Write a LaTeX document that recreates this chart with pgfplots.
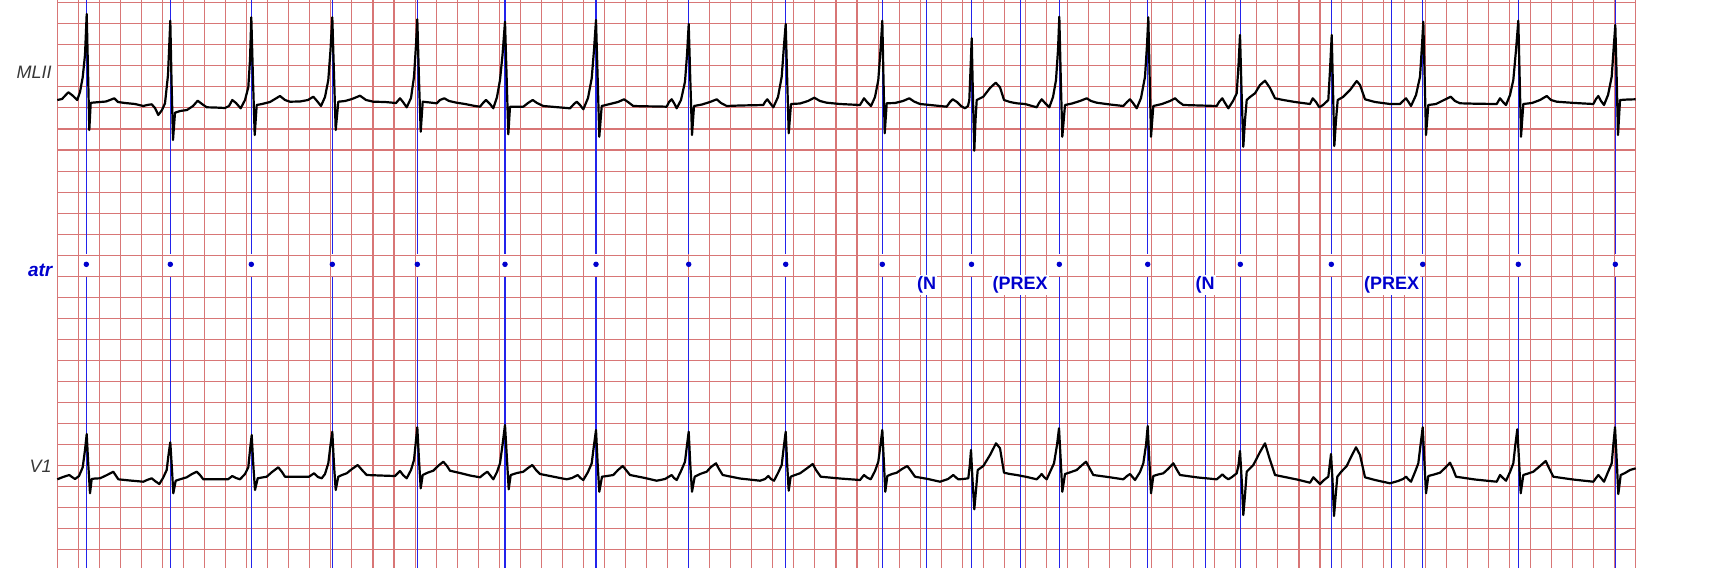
\documentclass[border=0pt]{standalone}
\usepackage{pgfplots}
\pgfplotsset{compat=1.18}
\usepackage{fontspec}
\setmainfont{Liberation Sans}
\definecolor{gridred}{RGB}{216,118,118}
\definecolor{annblue}{RGB}{35,35,235}
\definecolor{txtblue}{RGB}{0,0,205}
\definecolor{lblgray}{RGB}{55,55,55}

\pgfplotstableread{
x y
57.3 100
62 99
68.3 92.3
72 95
77.3 100
80 92
82.7 77.3
85 55
86.7 14
88 70
89.3 130
90.7 103
92 102.7
100 102
106 101.5
110 100
114.3 98.3
118 102
125 103
135 104
143.3 106
147 105
151.7 104.3
155 108
158.3 115
162 110
165 103.3
168 75
170.3 20.7
171.5 80
173 140
175 112.7
180 111
187 110
193 106
197.7 100.7
202 104
206.7 107.3
215 107.5
225 108
229 106
232.3 100
236 103
240.7 108.3
245 100
248.3 87.3
250 60
251.3 17.3
253 80
254.7 135
256.7 105
262 104
270 102
275 99
280 96
285 100
290 101.7
300 101.5
308 100
313.3 96.7
317 101
321 106
325 97
328.3 80
330.5 50
332.3 17.3
334 75
335.7 130
338.3 101.7
345 101
352 99
360 95.7
366 100
373.3 101.7
385 102
396 103
400 98.3
403 102
406.7 107.3
411 98
414 76.7
416 45
417.3 19.3
419 80
420.7 131.7
422.7 101.7
430 102.5
436.7 103.3
440 100
444.3 98.3
449 101
456.7 102.7
465 104
475 106
480 106.7
483 103
486 100
490 104
493.3 108.3
497 97
500 80
502.5 55
505 21.7
506.7 80
508.3 134.3
510 106.7
517 106.7
523.3 106.7
528 103
532.7 100
537 103
543.3 106
555 107
570 108.3
574 104
576.7 101.7
580 105
583.3 109.3
588 98
591.7 78.3
594 50
596 20
597.7 80
599.3 136.7
601.7 106
610 104
618 102
624 99.3
628 102
633.3 106
645 106.3
660 106.5
666.7 106.7
669 102
671.7 99.3
674 103
676.7 108.3
681 100
685 81.7
687 55
688.7 24
690.3 80
692 135
694 106
702 104.5
710 102
716.7 99.3
721 103
726.7 106
740 105.5
755 105.2
763.3 105
765 102
767.3 99.3
770 103
773.3 107.3
778 97
781.7 76.7
784 45
785.7 24
787.2 80
788.7 133.3
791 104
800 103.5
808 101
814.3 97.7
820 101
826.7 102.7
840 104
860 105
864 98.3
867 102
871 106
875 97
878.3 80
880.5 50
882.3 20.7
883.5 80
884.7 133.3
886.7 103.3
895 103
903 101
909.3 98.3
914 101.5
920 104
930 105
940 106
946.7 106.7
950 102
952.7 99.3
957 102
961 106
965 108.3
968 106
969.3 100
970.5 70
971.7 38.3
973 100
974.3 150.7
975.5 120
976.7 100
983.3 96.7
990 88
995.7 82.7
1000 87.3
1004 100
1010 102
1016.7 103.3
1025 104
1036.7 107.3
1039 103
1041.7 99.3
1045 103
1049.3 107.3
1053 97
1056 80
1058 50
1059.3 16.7
1060.8 80
1062.3 136.7
1065 105
1072 103.5
1080 101
1086.7 98.3
1091 101
1096.7 102.7
1110 104.5
1123.3 106
1127 102
1130 99.3
1133 103
1136.7 108.3
1141 98
1145 76.7
1147 45
1148.3 17.3
1149.7 80
1151 136.7
1153.3 106
1162 104
1170 101
1175 98.3
1179 102
1183.3 105
1200 105.5
1216.7 106
1219 102
1222.3 98.3
1225 103
1228.3 108.3
1233 101
1236.7 93.3
1238.5 65
1240 35
1241.5 90
1243.3 146.7
1245 120
1246.7 100
1250 97
1255 93.3
1260 85
1265 80.7
1270 88
1275 98.3
1283.3 100
1295 102
1310 104
1312.7 98.3
1316 102
1319.3 107.3
1323 105
1328.3 100
1330 70
1331.7 35
1333 90
1334.3 146
1336 120
1337.7 100
1343 97
1350 90
1356.7 81
1360 85
1365 99.3
1375 102
1390 104
1400 104
1403 101
1406 98.3
1408.5 102
1411 106
1416 95
1420 76.7
1422 45
1423.3 21.7
1424.7 80
1426 135
1428.3 105
1436 104
1444 100
1450.7 96.7
1455 101
1460 103.3
1475 103.7
1496.7 104
1500 98.3
1503 102
1506 105
1510 95
1513.3 80
1516 50
1518.3 20.7
1519.7 80
1521 136.7
1523.3 104
1532 103
1540 100
1546.7 96
1551 100
1556.7 101.7
1575 103
1593.3 104
1596 99
1598.3 96
1601 101
1604 105
1608 95
1611.7 76.7
1613.5 50
1615.3 25
1616.7 80
1618 135
1620 100
1628 99.5
1635.7 99.3
}\MLII

\pgfplotstableread{
x y
57.3 479.3
63 477
69.3 475
72 477
75 479
79 476
82.7 467.3
85 450
86.7 434
88.3 465
90 493.3
91.7 479
95 478.5
100 478.3
107 475
113.3 471.7
118.3 479.3
130 480.5
143.3 481.7
147 480
151.7 478.3
155 481
159.3 484
163 478
166.7 470
168.5 455
170.3 442.3
172 470
173.3 493.3
175.7 480.7
181 479
186.7 477.3
192 474
196.7 471.7
200 475
203.3 479.3
215 479.3
228 479.3
232.3 476
236 478
240 479.3
245 474
248.3 467.3
250 450
251.7 435
253.3 465
255 490
257.7 478.3
262 477.5
266.7 476.7
272 472
278.3 467.3
282 472
285 476.7
300 476.7
309 476.7
314 473.3
318 477
321.7 478.3
325 474
328.3 463.3
330.5 445
332.3 431.7
334 465
335.7 490
338.3 476.7
342 475
346.7 473.3
352 469
357.7 465
362 470
366.7 475
380 475.5
395 476
400 471
403 475
406.7 478.3
411 470
414 460
416 440
417.3 427.3
419 460
420.7 488.3
422.7 475
428 472.5
433.3 470.7
438 466
443.3 461.7
447 466
450 470.7
460 473
470 475.5
480 477.3
484 474
487.3 471.7
490 475
493.3 479.3
497 472
500 463.3
502.5 445
505 425
507 460
508.7 489.3
510.7 475
517 473
523.3 471.7
528 468
532.3 465
536 470
540 474
550 476
566.7 479.3
572 478
577.7 475
580.5 478
583.3 480
588 472
591.7 463.3
594 445
596 430
597.7 465
599.3 491.7
602 476.7
607 476
613.3 475
618 470
622.7 466
626 470
630 475
645 478
656.7 480.7
665 479
671.7 475
674 478
676.7 480
681 471
685 461.7
687 445
688.7 431.7
690.3 465
692 491.7
694.7 476.7
700 474
706.7 471.7
711 467
716 463.3
719 469
722.7 475
740 478.5
760 480.7
765 479
768.3 476
771 479
774 480.7
778 473
781.7 465
784 445
785.7 431.7
787.2 465
788.7 490.7
790.7 476.7
795 475
800 473.3
806 469
812.7 464
816 470
820.7 476.7
840 478.5
860 480
864 475
867 477.5
870.7 479.3
875 471
878.3 461.7
880.5 445
882.3 430
884 465
885.3 491.7
887.3 476
892 474
896.7 472.7
902 469
907.3 466
911 471
915 476.7
928 479
940 481.7
948 479
953.3 475
956 477.5
958.3 479.3
963 479
968.3 478.3
969.8 465
971 450
972.5 480
974.3 509.3
976 490
977.7 470
983.3 466
990 455
996 443.3
1000 448.3
1004 472.7
1010 474
1016.7 475
1027 477
1036.7 479.3
1039 477
1041.7 474
1044 477
1046.7 479.3
1050 472
1054 463.3
1057 445
1059 428.3
1060.7 460
1062.3 491.7
1065 474
1071 472
1076.7 470
1081 466
1086 461.7
1090 469
1093.3 475
1108 477
1123.3 479.3
1127 476
1130 474
1132.5 477
1135 480
1140 472
1143.3 463.3
1146 445
1147.7 426
1149.3 460
1151 493.3
1153.3 476
1158 474.5
1163.3 473.3
1168 469
1173.3 463.3
1177 470
1180 475
1198 477.5
1216.7 479.3
1219.5 477
1222.3 474.3
1225 477
1228.3 479.3
1232 477
1236.7 473.3
1238.5 465
1240 451
1241.7 480
1243.3 515
1245 495
1246.7 471.7
1253.3 465
1260 452
1265 443.3
1270 460
1275 475
1283.3 476.7
1297 479.5
1310 482.7
1313.3 477.3
1317 481
1320 484
1324 480
1328.3 476.7
1329.7 465
1331 454
1332.5 480
1334 516
1335.7 495
1337.3 476.7
1341 472
1346.7 466
1351 457
1356 447.3
1360 455
1365 477.3
1375 480
1390 483.3
1398 481
1403 479
1406 476.7
1408.5 479.5
1411 481.7
1415 472
1418.3 463.3
1420.5 445
1422.7 427.3
1424.3 460
1426 493.3
1428.3 476
1434 474.5
1440 472.7
1445 468
1450 462.7
1453 469
1456 476.7
1475 479.5
1496.7 481.7
1500 475
1503 478
1506 480.7
1510 472
1513.3 463.3
1515.3 445
1517.3 429.3
1519 460
1520.7 493.3
1523.3 475
1528 473.5
1533.3 471.7
1540 466
1545.7 461
1549 468
1553.3 476.7
1573 479.5
1593.3 481.7
1596 478
1598.3 475
1601 478
1604 481.7
1608 472
1611.7 463.3
1613.3 445
1615 427.3
1616.7 460
1618.3 494
1620.7 475
1625 473
1630 470
1635.7 468.3
}\Vone

\begin{document}
\begin{tikzpicture}
\begin{axis}[
  scale only axis, width=858pt, height=284pt,
  xmin=0, xmax=1716, ymin=0, ymax=568, y dir=reverse,
  axis lines=none, ticks=none, clip=false,
]
% grid
\pgfplotsinvokeforeach{0,...,75}{
  \draw[gridred, line width=0.55pt] (axis cs:{57.3+21.045*#1},0) -- (axis cs:{57.3+21.045*#1},568);
}
\pgfplotsinvokeforeach{0,...,26}{
  \draw[gridred, line width=0.55pt] (axis cs:57.3,{2.7+21.045*#1}) -- (axis cs:1635.7,{2.7+21.045*#1});
}
% annotation lines for beats
\pgfplotsinvokeforeach{86.3,170.3,251.3,332.3,417.3,505,596,688.7,785.7,882.3,971.5,1059.3,1147.7,1240.3,1331.3,1422.7,1518.3,1615.3}{
  \draw[annblue, line width=0.6pt] (axis cs:#1,0) -- (axis cs:#1,254.3);
  \draw[annblue, line width=0.6pt] (axis cs:#1,276.7) -- (axis cs:#1,568);
}
% rhythm annotation lines
\pgfplotsinvokeforeach{926.6,1020.2,1205.2,1391.6}{
  \draw[annblue, line width=0.6pt] (axis cs:#1,0) -- (axis cs:#1,568);
}
% beat annotation dots
\addplot[only marks, mark=*, mark size=1.15pt, color=txtblue] coordinates {
(86.3,264.3) (170.3,264.3) (251.3,264.3) (332.3,264.3) (417.3,264.3) (505,264.3)
(596,264.3) (688.7,264.3) (785.7,264.3) (882.3,264.3) (971.5,264.3) (1059.3,264.3)
(1147.7,264.3) (1240.3,264.3) (1331.3,264.3) (1422.7,264.3) (1518.3,264.3) (1615.3,264.3)
};
% rhythm labels
\node[anchor=base, fill=white, inner sep=0.6pt, text=txtblue, font=\fontsize{9}{10}\selectfont\bfseries] at (axis cs:926.6,289.6) {(N};
\node[anchor=base, fill=white, inner sep=0.6pt, text=txtblue, font=\fontsize{9}{10}\selectfont\bfseries] at (axis cs:1020.2,289.6) {(PREX};
\node[anchor=base, fill=white, inner sep=0.6pt, text=txtblue, font=\fontsize{9}{10}\selectfont\bfseries] at (axis cs:1205.2,289.6) {(N};
\node[anchor=base, fill=white, inner sep=0.6pt, text=txtblue, font=\fontsize{9}{10}\selectfont\bfseries] at (axis cs:1391.6,289.6) {(PREX};
% channel labels
\node[anchor=east, inner sep=0pt, text=lblgray, font=\fontsize{9}{10}\selectfont\itshape] at (axis cs:52,72.7) {MLII};
\node[anchor=base east, inner sep=0pt, text=txtblue, font=\fontsize{9.5}{10}\selectfont\bfseries\itshape] at (axis cs:52.7,276) {atr};
\node[anchor=east, inner sep=0pt, text=lblgray, font=\fontsize{9}{10}\selectfont\itshape] at (axis cs:52,466.7) {V1};
% signals
\addplot[black, line width=1.1pt, line join=round] table {\MLII};
\addplot[black, line width=1.1pt, line join=round] table {\Vone};
\coordinate (BL) at (axis cs:0,568);
\coordinate (TR) at (axis cs:1716,0);
\end{axis}
\pgfresetboundingbox
\path (BL) rectangle (TR);
\end{tikzpicture}
\end{document}
